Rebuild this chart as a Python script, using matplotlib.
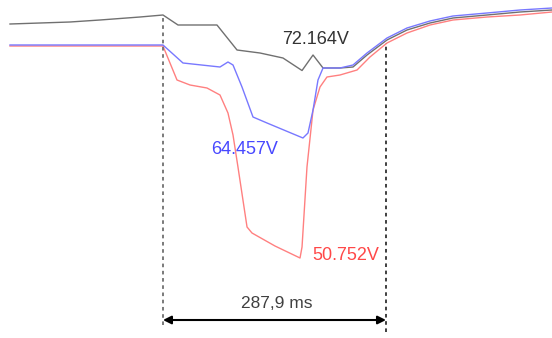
"""Провал напряжения: три фазы и длительность события."""

import matplotlib
matplotlib.use("Agg")
import matplotlib.pyplot as plt

# Время, мс (0 = начало провала)
black_t = [-197.5, -158.8, -120.1, -81.3, -29.7, 0.0, 19.4, 69.7, 95.6, 125.2,
           154.9, 179.5, 193.7, 206.6, 228.5, 245.3, 263.4, 289.2, 315.0, 344.7,
           374.4, 418.3, 460.9, 502.2]
black_v = [77.477, 77.591, 77.705, 77.934, 78.276, 78.505, 77.363, 77.363, 74.507,
           74.165, 73.594, 72.164, 73.936, 72.452, 72.452, 72.566, 73.936, 75.650,
           76.792, 77.591, 78.162, 78.505, 78.847, 79.076]

blue_t = [-197.5, -81.3, 0.0, 25.8, 73.6, 83.9, 90.4, 102.0, 116.2, 134.3, 180.7,
          187.2, 193.7, 200.1, 206.6, 228.5, 245.3, 263.4, 289.2, 315.0, 344.7,
          374.4, 418.3, 460.9, 502.2]
blue_v = [75.079, 75.079, 75.079, 73.023, 72.566, 73.137, 72.794, 70.282, 66.855,
          66.170, 64.457, 65.028, 67.655, 71.081, 72.452, 72.452, 72.794, 74.165,
          75.878, 77.020, 77.820, 78.391, 78.733, 79.076, 79.304]

red_t = [-197.5, 0.0, 18.1, 34.9, 56.8, 73.6, 83.9, 90.4, 96.8, 108.5, 114.9,
         144.6, 176.9, 179.5, 185.9, 193.7, 202.7, 211.7, 228.5, 250.5, 267.2,
         289.2, 315.0, 344.7, 374.4, 418.3, 460.9, 502.2]
red_v = [74.964, 74.964, 71.081, 70.510, 70.168, 69.368, 67.312, 64.800, 61.145,
         54.292, 53.607, 52.122, 50.752, 52.008, 61.145, 67.655, 70.282, 71.424,
         71.652, 72.223, 73.708, 75.307, 76.449, 77.363, 77.934, 78.276, 78.505,
         78.847]

# Минимумы по фазам и длительность
min_labels = ["72.164V", "64.457V", "50.752V"]
t_start, t_end = 0.0, 287.9
duration_label = "287,9 ms"

fig = plt.figure(figsize=(5.52, 3.38), dpi=100)
ax = fig.add_axes([0, 0, 1, 1])
ax.set_xlim(-210.4, 502.2)
ax.set_ylim(41.615, 80.218)
ax.axis("off")

ax.plot(black_t, black_v, color="#707070", lw=1.0)
ax.plot(red_t, red_v, color="#ff8080", lw=1.0)
ax.plot(blue_t, blue_v, color="#7878ff", lw=1.0)

# Границы события
ax.plot([t_start, t_start], [43.1, 78.5], color="#707070", lw=1.3, ls=(0, (2, 2)))
ax.plot([t_end, t_end], [42.3, 75.3], color="#303030", lw=1.3, ls=(0, (2, 2)))

ax.annotate("", xy=(t_end, 43.67), xytext=(t_start, 43.67),
            arrowprops=dict(arrowstyle="<|-|>", color="black", lw=1.5,
                            mutation_scale=12, shrinkA=0, shrinkB=0))

font = dict(family="Liberation Sans", fontsize=13, ha="center", va="center")
ax.text(197.6, 75.65, min_labels[0], color="#333333", **font)
ax.text(105.9, 63.09, min_labels[1], color="#4848ff", **font)
ax.text(236.3, 51.09, min_labels[2], color="#ff4848", **font)
ax.text(147.2, 45.6, duration_label, color="#404040", fontsize=12.5,
        family="Liberation Sans", ha="center", va="center")

fig.savefig("out.png", dpi=100)
